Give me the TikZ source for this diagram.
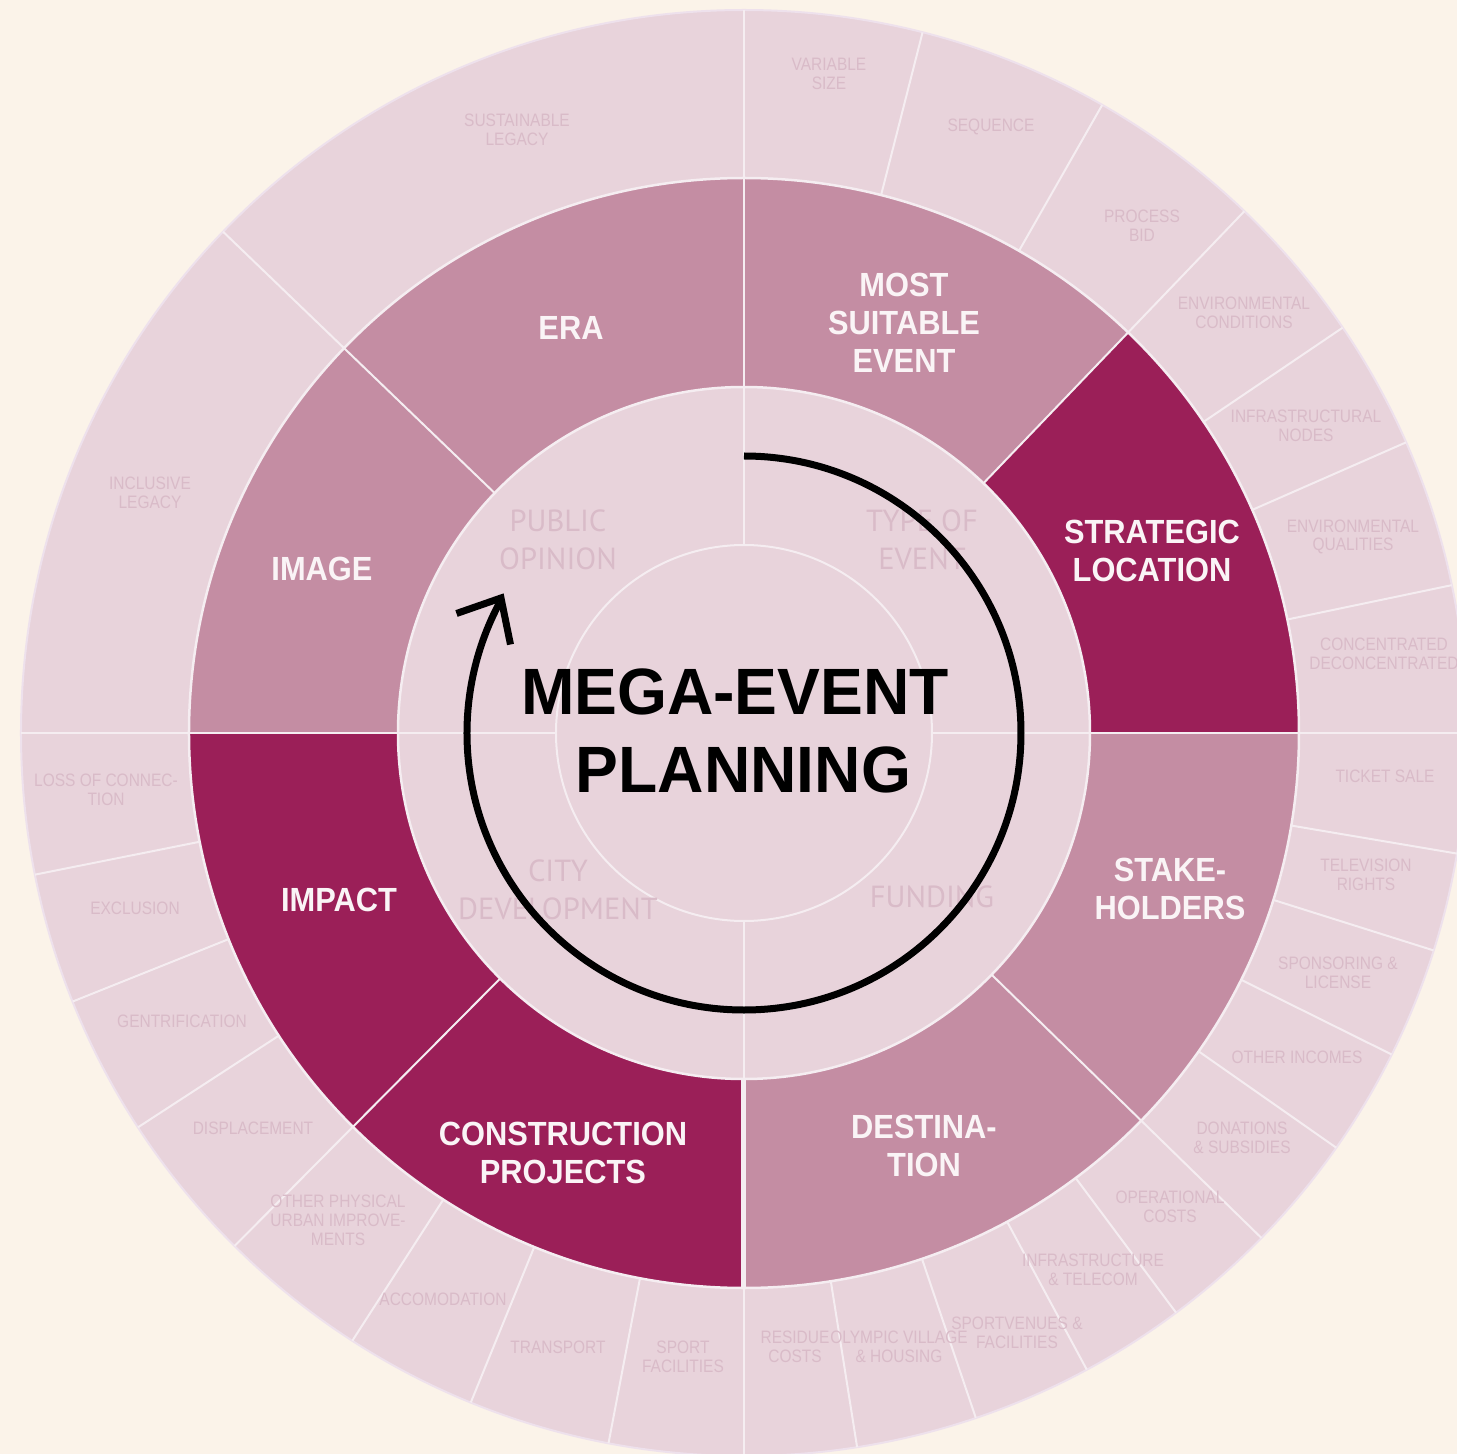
\documentclass[tikz,border=0pt]{standalone}
\usepackage{fontspec}
\setmainfont{Liberation Sans}
\newfontfamily\midfont{Liberation Sans}[FakeStretch=0.92]
\newfontfamily\outfont{Liberation Sans}[FakeStretch=0.86]
\newfontfamily\infont{PT Sans}
\newfontfamily\ttlfont{Liberation Sans}[FakeStretch=0.98]
\definecolor{bgc}{HTML}{FBF3E9}
\definecolor{lightc}{HTML}{E8D3DB}
\definecolor{midc}{HTML}{C48DA3}
\definecolor{darkc}{HTML}{9B1F58}
\definecolor{sepc}{HTML}{F5EDF1}
\definecolor{edgec}{HTML}{EEE1EC}
\definecolor{ftext}{HTML}{D9BBC8}
\definecolor{wtext}{HTML}{FAF4F6}
\newcommand\annsec[5]{\fill[#5] (#1:#3) arc[start angle=#1, end angle=#2, radius=#3] -- (#2:#4) arc[start angle=#2, end angle=#1, radius=#4] -- cycle;}
\tikzset{
  midlab/.style={font=\midfont\bfseries\fontsize{33.5}{38}\selectfont, text=wtext, align=center, inner sep=0pt},
  outlab/.style={font=\outfont\fontsize{18}{18.8}\selectfont, text=ftext, align=center, inner sep=0pt},
  inlab/.style={font=\infont\fontsize{30.5}{38}\selectfont, text=ftext, align=center, inner sep=0pt},
  ttl/.style={font=\ttlfont\bfseries\fontsize{65.5}{78}\selectfont, text=black, inner sep=0pt},
  sepline/.style={draw=sepc, line width=2pt},
  arrowline/.style={draw=black, line width=7pt}
}
\begin{document}
\begin{tikzpicture}[x=1pt,y=1pt]
\useasboundingbox (-744,-721) rectangle (713,733);
\fill[bgc] (-744,-721) rectangle (713,733);
% outer disk
\fill[lightc] (0,0) circle (723);
\draw[edgec, line width=2pt] (0,0) circle (723);
% middle ring sectors
\annsec{0}{46.2}{346}{555}{darkc}
\annsec{46.2}{90}{346}{555}{midc}
\annsec{90}{136.1}{346}{555}{midc}
\annsec{136.1}{180}{346}{555}{midc}
\annsec{180}{225.2}{346}{555}{darkc}
\annsec{225.2}{270}{346}{555}{darkc}
\annsec{270}{315.7}{346}{555}{midc}
\annsec{315.7}{360}{346}{555}{midc}
% circles
\draw[sepline, line width=2.5pt] (0,0) circle (555);
\draw[sepline, line width=2.5pt] (0,0) circle (346);
\draw[sepline] (0,0) circle (188);
% radial lines
\foreach \a in {0,90,180,270} \draw[sepline] (\a:188) -- (\a:346);
\foreach \a in {0,46.2,90,136.1,180,225.2,315.7} \draw[sepline] (\a:346) -- (\a:555);
\draw[sepline, line width=5pt] (270:347) -- (270:554);
\foreach \a in {0,11.8,23.7,34.1,46.2,60.3,75.7,90,136.1,180,191.3,201.8,213.05,225.2,237.2,247.8,259.2,270,279,288.7,298.3,306.7,315.7,325,333.6,342.5,350.4}
  \draw[sepline] (\a:555) -- (\a:723);
% labels in image coordinates
\begin{scope}[shift={(-744,733)}, y=-1pt]
  % inner ring
  \node[inlab] (pub) at (558,540) {PUBLIC\\OPINION};
  \node[inlab] (typ) at (922,540) {TYPE OF\\EVENT};
  \node[inlab] (city) at (558,890) {CITY\\DEVELOPMENT};
  \node[inlab] (fund) at (932,897) {FUNDING};
  % middle ring
  \node[midlab] (era) at (571,328) {ERA};
  \node[midlab] (mse) at (904,323) {MOST\\SUITABLE\\EVENT};
  \node[midlab] (sl) at (1152,551) {STRATEGIC\\LOCATION};
  \node[midlab] (sh) at (1170,889) {STAKE-\\HOLDERS};
  \node[midlab] (dest) at (924,1146) {DESTINA-\\TION};
  \node[midlab] (cp) at (563,1153) {CONSTRUCTION\\PROJECTS};
  \node[midlab] (imp) at (339,900) {IMPACT};
  \node[midlab] (img) at (322,569) {IMAGE};
  % outer ring
  \node[outlab] (o1) at (829,74) {VARIABLE\\SIZE};
  \node[outlab] (o2) at (991,127) {SEQUENCE};
  \node[outlab] (o3) at (1142,225.5) {PROCESS\\BID};
  \node[outlab] (o4) at (1244,313) {ENVIRONMENTAL\\CONDITIONS};
  \node[outlab] (o5) at (1306,425.5) {INFRASTRUCTURAL\\NODES};
  \node[outlab] (o6) at (1353,537) {ENVIRONMENTAL\\QUALITIES};
  \node[outlab] (o7) at (1384,654) {CONCENTRATED\\DECONCENTRATED};
  \node[outlab] (o8) at (1385,776) {TICKET SALE};
  \node[outlab] (o9) at (1366,875) {TELEVISION\\RIGHTS};
  \node[outlab] (o10) at (1338,973) {SPONSORING \&\\LICENSE};
  \node[outlab] (o11) at (1297,1057) {OTHER INCOMES};
  \node[outlab] (o12) at (1242,1138) {DONATIONS\\\& SUBSIDIES};
  \node[outlab] (o13) at (1170,1207) {OPERATIONAL\\COSTS};
  \node[outlab] (o14) at (1093,1270) {INFRASTRUCTURE\\\& TELECOM};
  \node[outlab] (o15) at (1017,1333) {SPORTVENUES \&\\FACILITIES};
  \node[outlab] (o16) at (899,1347) {OLYMPIC VILLAGE\\\& HOUSING};
  \node[outlab] (o17) at (795,1347) {RESIDUE\\COSTS};
  \node[outlab] (o18) at (683,1357) {SPORT\\FACILITIES};
  \node[outlab] (o19) at (558,1347) {TRANSPORT};
  \node[outlab] (o20) at (443,1299) {ACCOMODATION};
  \node[outlab] (o21) at (338,1220) {OTHER PHYSICAL\\URBAN IMPROVE-\\MENTS};
  \node[outlab] (o22) at (253,1128) {DISPLACEMENT};
  \node[outlab] (o23) at (182,1021) {GENTRIFICATION};
  \node[outlab] (o24) at (135,908) {EXCLUSION};
  \node[outlab] (o25) at (106,790) {LOSS OF CONNEC-\\TION};
  \node[outlab] (o26) at (150,493) {INCLUSIVE\\LEGACY};
  \node[outlab] (o27) at (517,130) {SUSTAINABLE\\LEGACY};
\end{scope}
% cycle arrow
\draw[arrowline] (90:277) arc[start angle=90, end angle=-208, radius=277];
\coordinate (tip) at (-243,135);
\coordinate (armA) at (-287.5,119.5);
\coordinate (armB) at (-233.5,88.5);
\draw[arrowline, line join=miter] (armA) -- (tip) -- (armB);
% title
\begin{scope}[shift={(-744,733)}, y=-1pt]
  \node[ttl] (t1) at (735,691.5) {MEGA-EVENT};
  \node[ttl] (t2) at (743.5,770) {PLANNING};
\end{scope}
\end{tikzpicture}
\end{document}
